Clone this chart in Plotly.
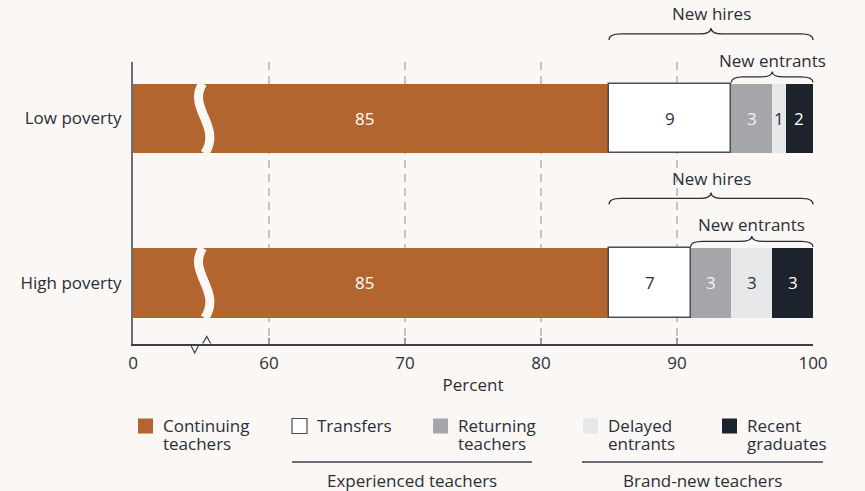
import plotly.graph_objects as go

# ---------------- data ----------------
groups = ["Low poverty", "High poverty"]
series_names = ["Continuing teachers", "Transfers", "Returning teachers",
                "Delayed entrants", "Recent graduates"]
continuing = [85, 85]
transfers = [9, 6]
returning = [3, 3]
delayed = [1, 3]
recent = [2, 3]
continuing_labels = ["85", "85"]
transfers_labels = ["9", "7"]
returning_labels = ["3", "3"]
delayed_labels = ["1", "3"]
recent_labels = ["2", "3"]
tick_values = [0, 60, 70, 80, 90, 100]
legend_lines = [["Continuing", "teachers"], ["Transfers"], ["Returning", "teachers"],
                ["Delayed", "entrants"], ["Recent", "graduates"]]
group_titles = ["Experienced teachers", "Brand-new teachers"]
brace_titles = ["New hires", "New entrants"]
axis_title = "Percent"

# ---------------- style / layout ----------------
BG = "#faf7f4"
TXT = "#2b2f38"
FONT = "Open Sans"
FS = 17
colors = ["#b3652f", "#ffffff", "#a4a6a9", "#e6e7e9", "#1d232d"]
text_colors = ["#ffffff", TXT, "#f4f4f4", TXT, "#ffffff"]
W, H = 865, 491
PL, PR, PT, PB = 133, 813, 62, 344
BREAK_LO, BREAK_HI = 0, 60      # real span compressed
XMIN, XMAX = 50, 100            # display range
YMIN, YMAX = -0.371, 1.343
BAR_W = 0.42


def disp(v):
    """real value -> display value on the broken axis"""
    if v >= BREAK_HI:
        return v
    return XMIN + (v - BREAK_LO) / (BREAK_HI - BREAK_LO) * (BREAK_HI - XMIN)


def px_x(d):
    return PL + (d - XMIN) / (XMAX - XMIN) * (PR - PL)


def paper_x(px):
    return (px - PL) / (PR - PL)


def paper_y(py):
    return (PB - py) / (PB - PT)


cat_order = groups[::-1]


def cy(g):
    i = cat_order.index(g)
    return PT + (YMAX - i) / (YMAX - YMIN) * (PB - PT)


bar_h_px = BAR_W * (PB - PT) / (YMAX - YMIN)

series = [continuing, transfers, returning, delayed, recent]
labels = [continuing_labels, transfers_labels, returning_labels, delayed_labels, recent_labels]

fig = go.Figure()
annotations = []
shapes = []


def text_ann(x, y, text, color=TXT, xanchor="center", xref="paper", yref="paper"):
    return dict(x=x, y=y, xref=xref, yref=yref, text=text, showarrow=False,
                xanchor=xanchor, yanchor="middle",
                font=dict(size=FS, color=color, family=FONT))


starts = [[0] * len(groups)]
for s in series[:-1]:
    starts.append([a + b for a, b in zip(starts[-1], s)])

for k, (name, vals) in enumerate(zip(series_names, series)):
    base = [disp(s0) for s0 in starts[k]]
    width = [disp(s0 + v) - disp(s0) for s0, v in zip(starts[k], vals)]
    fig.add_trace(go.Bar(
        y=groups, x=width, base=base, orientation="h", name=name,
        width=BAR_W,
        marker=dict(color=colors[k],
                    line=dict(color="#4a4f57" if k == 1 else colors[k],
                              width=1.5 if k == 1 else 0)),
        showlegend=False, hoverinfo="skip"))
    for g, b0, w, lab in zip(groups, base, width, labels[k]):
        cx = b0 + w / 2
        if k == 0:
            cx -= 0.5
        annotations.append(text_ann(cx, g, lab, color=text_colors[k], xref="x", yref="y"))

# break marks inside bars
BREAK_D = 55.2
for g in groups:
    bx = px_x(BREAK_D)
    top = cy(g) - bar_h_px / 2
    bot = cy(g) + bar_h_px / 2
    h = bot - top
    pts = [(bx - 1, top - 0.5), (bx - 17, top + 0.35 * h), (bx + 19, top + 0.62 * h), (bx + 1, bot + 0.5)]
    p = [(paper_x(a), paper_y(b)) for a, b in pts]
    path = "M %f,%f C %f,%f %f,%f %f,%f" % (p[0] + p[1] + p[2] + p[3])
    shapes.append(dict(type="path", path=path, xref="paper", yref="paper",
                       line=dict(color=BG, width=9), layer="above"))

# axis break mark
bx = px_x(BREAK_D)
for seg in ([(bx - 13, PB + 1), (bx - 9, PB + 9), (bx - 5, PB + 1)],
            [(bx - 1, PB - 0.5), (bx + 3, PB - 7.5), (bx + 7, PB - 0.5)]):
    pp = [(paper_x(a), paper_y(b)) for a, b in seg]
    path = "M %f,%f L %f,%f L %f,%f" % (pp[0] + pp[1] + pp[2])
    shapes.append(dict(type="path", path=path, xref="paper", yref="paper",
                       line=dict(color="#3a3f48", width=1.2), layer="above"))


# braces
def brace(x0, x1, y_end, y_tip):
    xc = (x0 + x1) / 2
    ym = (y_end + y_tip) / 2
    q = 12
    pts = [(x0, y_end), (x0, ym), (x0 + q, ym), (xc - q, ym), (xc, ym), (xc, y_tip),
           (xc, ym), (xc + q, ym), (x1 - q, ym), (x1, ym), (x1, y_end)]
    p = [(paper_x(a), paper_y(b)) for a, b in pts]
    fmt = ("M %f,%f Q %f,%f %f,%f L %f,%f Q %f,%f %f,%f "
           "Q %f,%f %f,%f L %f,%f Q %f,%f %f,%f")
    flat = []
    for pt in p:
        flat += list(pt)
    return dict(type="path", path=fmt % tuple(flat), xref="paper", yref="paper",
                line=dict(color="#2b2f38", width=1.2), layer="above")


for gi, g in enumerate(groups):
    top = cy(g) - bar_h_px / 2
    total = starts[-1][gi] + recent[gi]
    nh0 = px_x(disp(starts[1][gi]))
    ne0 = px_x(disp(starts[2][gi]))
    x1 = px_x(disp(total))
    nh_end = top - 44
    ne_end = top - 1.5
    shapes.append(brace(nh0, x1, nh_end, nh_end - 12))
    shapes.append(brace(ne0, x1, ne_end, ne_end - 11))
    annotations.append(text_ann(paper_x((nh0 + x1) / 2), paper_y(nh_end - 26), brace_titles[0]))
    annotations.append(text_ann(paper_x((ne0 + x1) / 2), paper_y(ne_end - 22), brace_titles[1]))

# custom legend
sq_x = [138, 292, 433, 583, 722]
SQ = 15
LEG_Y = 426
for k in range(5):
    x0 = sq_x[k]
    shapes.append(dict(type="rect", xref="paper", yref="paper",
                       x0=paper_x(x0), x1=paper_x(x0 + SQ),
                       y0=paper_y(LEG_Y - 7.5), y1=paper_y(LEG_Y + 7.5),
                       fillcolor=colors[k],
                       line=dict(color="#4a4f57" if k == 1 else colors[k], width=1.2 if k == 1 else 0)))
    for li, line in enumerate(legend_lines[k]):
        annotations.append(text_ann(paper_x(x0 + SQ + 8), paper_y(LEG_Y + li * 17.5), line,
                                    xanchor="left"))

for (x0, x1), title in zip([(292, 532), (582, 823)], group_titles):
    shapes.append(dict(type="line", xref="paper", yref="paper",
                       x0=paper_x(x0), x1=paper_x(x1), y0=paper_y(462), y1=paper_y(462),
                       line=dict(color="#6b6f77", width=2)))
    annotations.append(text_ann(paper_x((x0 + x1) / 2), paper_y(480), title))

fig.update_layout(
    width=W, height=H,
    margin=dict(l=PL, r=W - PR, t=PT, b=H - PB, autoexpand=False),
    paper_bgcolor=BG, plot_bgcolor=BG,
    barmode="overlay", bargap=0,
    font=dict(family=FONT, size=FS, color=TXT),
    shapes=shapes, annotations=annotations,
    xaxis=dict(range=[XMIN, XMAX], tickvals=[disp(t) for t in tick_values],
               ticktext=[str(t) for t in tick_values],
               showgrid=True, gridcolor="#c4c4c4", griddash="8px,6px", gridwidth=1.5,
               showline=True, linecolor="#3a3f48", linewidth=1.5,
               ticks="inside", ticklen=6, tickcolor="#9a9a9a", tickwidth=1.5,
               zeroline=False, tickfont=dict(size=FS, color=TXT),
               ticklabelstandoff=3,
               title=dict(text=axis_title, font=dict(size=FS, color=TXT), standoff=6)),
    yaxis=dict(type="category", categoryorder="array", categoryarray=cat_order,
               range=[YMIN, YMAX], showgrid=False, zeroline=False,
               showline=True, linecolor="#6b6f77", linewidth=2,
               ticks="", tickfont=dict(size=FS, color=TXT), ticklabelstandoff=6),
)

fig.write_html("out.html", config={"displayModeBar": False},
               post_script="document.body.style.margin='0';document.body.style.background='%s';" % BG)
